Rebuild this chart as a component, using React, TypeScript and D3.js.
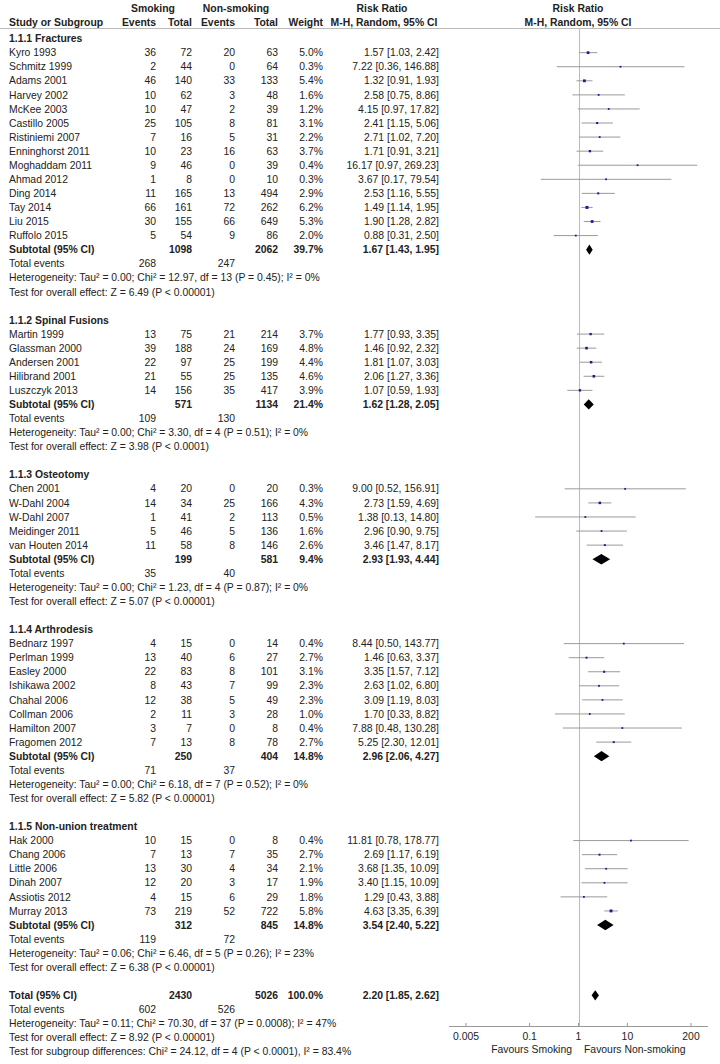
import { scaleLog } from 'd3';

// Subgroups
const groupTitles = [
  '1.1.1 Fractures',
  '1.1.2 Spinal Fusions',
  '1.1.3 Osteotomy',
  '1.1.4 Arthrodesis',
  '1.1.5 Non-union treatment',
];

// Studies (flat lists, studyGroup points into groupTitles)
const studyGroup = [
  0, 0, 0, 0, 0, 0, 0, 0, 0, 0, 0, 0, 0, 0,
  1, 1, 1, 1, 1,
  2, 2, 2, 2, 2,
  3, 3, 3, 3, 3, 3, 3, 3,
  4, 4, 4, 4, 4, 4,
];
const studyNames = [
  'Kyro 1993', 'Schmitz 1999', 'Adams 2001', 'Harvey 2002', 'McKee 2003', 'Castillo 2005',
  'Ristiniemi 2007', 'Enninghorst 2011', 'Moghaddam 2011', 'Ahmad 2012', 'Ding 2014',
  'Tay 2014', 'Liu 2015', 'Ruffolo 2015',
  'Martin 1999', 'Glassman 2000', 'Andersen 2001', 'Hilibrand 2001', 'Luszczyk 2013',
  'Chen 2001', 'W-Dahl 2004', 'W-Dahl 2007', 'Meidinger 2011', 'van Houten 2014',
  'Bednarz 1997', 'Perlman 1999', 'Easley 2000', 'Ishikawa 2002', 'Chahal 2006',
  'Collman 2006', 'Hamilton 2007', 'Fragomen 2012',
  'Hak 2000', 'Chang 2006', 'Little 2006', 'Dinah 2007', 'Assiotis 2012', 'Murray 2013',
];
const smokingEvents = [
  36, 2, 46, 10, 10, 25, 7, 10, 9, 1, 11, 66, 30, 5,
  13, 39, 22, 21, 14,
  4, 14, 1, 5, 11,
  4, 13, 22, 8, 12, 2, 3, 7,
  10, 7, 13, 12, 4, 73,
];
const smokingTotals = [
  72, 44, 140, 62, 47, 105, 16, 23, 46, 8, 165, 161, 155, 54,
  75, 188, 97, 55, 156,
  20, 34, 41, 46, 58,
  15, 40, 83, 43, 38, 11, 7, 13,
  15, 13, 30, 20, 15, 219,
];
const nonEvents = [
  20, 0, 33, 3, 2, 8, 5, 16, 0, 0, 13, 72, 66, 9,
  21, 24, 25, 25, 35,
  0, 25, 2, 5, 8,
  0, 6, 8, 7, 5, 3, 0, 8,
  0, 7, 4, 3, 6, 52,
];
const nonTotals = [
  63, 64, 133, 48, 39, 81, 31, 63, 39, 10, 494, 262, 649, 86,
  214, 169, 199, 135, 417,
  20, 166, 113, 136, 146,
  14, 27, 101, 99, 49, 28, 8, 78,
  8, 35, 34, 17, 29, 722,
];
const weights = [
  5.0, 0.3, 5.4, 1.6, 1.2, 3.1, 2.2, 3.7, 0.4, 0.3, 2.9, 6.2, 5.3, 2.0,
  3.7, 4.8, 4.4, 4.6, 3.9,
  0.3, 4.3, 0.5, 1.6, 2.6,
  0.4, 2.7, 3.1, 2.3, 2.3, 1.0, 0.4, 2.7,
  0.4, 2.7, 2.1, 1.9, 1.8, 5.8,
];
const riskRatios = [
  1.57, 7.22, 1.32, 2.58, 4.15, 2.41, 2.71, 1.71, 16.17, 3.67, 2.53, 1.49, 1.9, 0.88,
  1.77, 1.46, 1.81, 2.06, 1.07,
  9.0, 2.73, 1.38, 2.96, 3.46,
  8.44, 1.46, 3.35, 2.63, 3.09, 1.7, 7.88, 5.25,
  11.81, 2.69, 3.68, 3.4, 1.29, 4.63,
];
const ciLow = [
  1.03, 0.36, 0.91, 0.75, 0.97, 1.15, 1.02, 0.91, 0.97, 0.17, 1.16, 1.14, 1.28, 0.31,
  0.93, 0.92, 1.07, 1.27, 0.59,
  0.52, 1.59, 0.13, 0.9, 1.47,
  0.5, 0.63, 1.57, 1.02, 1.19, 0.33, 0.48, 2.3,
  0.78, 1.17, 1.35, 1.15, 0.43, 3.35,
];
const ciHigh = [
  2.42, 146.88, 1.93, 8.86, 17.82, 5.06, 7.2, 3.21, 269.23, 79.54, 5.55, 1.95, 2.82, 2.5,
  3.35, 2.32, 3.03, 3.36, 1.93,
  156.91, 4.69, 14.8, 9.75, 8.17,
  143.77, 3.37, 7.12, 6.8, 8.03, 8.82, 130.28, 12.01,
  178.77, 6.19, 10.09, 10.09, 3.88, 6.39,
];

// Subtotals per subgroup
const subSmokingTotal = [1098, 571, 199, 250, 312];
const subNonTotal = [2062, 1134, 581, 404, 845];
const subWeight = [39.7, 21.4, 9.4, 14.8, 14.8];
const subRR = [1.67, 1.62, 2.93, 2.96, 3.54];
const subLow = [1.43, 1.28, 1.93, 2.06, 2.4];
const subHigh = [1.95, 2.05, 4.44, 4.27, 5.22];
const subEventsSmoking = [268, 109, 35, 71, 119];
const subEventsNon = [247, 130, 40, 37, 72];
const subHeterogeneity = [
  'Heterogeneity: Tau² = 0.00; Chi² = 12.97, df = 13 (P = 0.45); I² = 0%',
  'Heterogeneity: Tau² = 0.00; Chi² = 3.30, df = 4 (P = 0.51); I² = 0%',
  'Heterogeneity: Tau² = 0.00; Chi² = 1.23, df = 4 (P = 0.87); I² = 0%',
  'Heterogeneity: Tau² = 0.00; Chi² = 6.18, df = 7 (P = 0.52); I² = 0%',
  'Heterogeneity: Tau² = 0.06; Chi² = 6.46, df = 5 (P = 0.26); I² = 23%',
];
const subEffect = [
  'Test for overall effect: Z = 6.49 (P < 0.00001)',
  'Test for overall effect: Z = 3.98 (P < 0.0001)',
  'Test for overall effect: Z = 5.07 (P < 0.00001)',
  'Test for overall effect: Z = 5.82 (P < 0.00001)',
  'Test for overall effect: Z = 6.38 (P < 0.00001)',
];

// Overall
const totalSmoking = 2430;
const totalNon = 5026;
const totalRR = 2.2;
const totalLow = 1.85;
const totalHigh = 2.62;
const totalEventsSmoking = 602;
const totalEventsNon = 526;
const totalNotes = [
  'Heterogeneity: Tau² = 0.11; Chi² = 70.30, df = 37 (P = 0.0008); I² = 47%',
  'Test for overall effect: Z = 8.92 (P < 0.00001)',
  'Test for subgroup differences: Chi² = 24.12, df = 4 (P < 0.0001), I² = 83.4%',
];

const axisTicks = [0.005, 0.1, 1, 10, 200];

const fmt2 = (v) => v.toFixed(2);
const ciText = (r, l, h) => `${fmt2(r)} [${fmt2(l)}, ${fmt2(h)}]`;

const W = 720;
const H = 1064;
const rowY0 = 38.6;
const rowStep = 14.07;
const col = { name: 9, ev1: 156, tot1: 192, ev2: 235, tot2: 278, weight: 323, rr: 439 };
const textColor = '#222';
const font = '"Liberation Sans", Arial, sans-serif';

const x = scaleLog().domain([0.005, 200]).range([466, 691]);

export default function App() {
  const rows = [];
  let r = 0;
  groupTitles.forEach((title, g) => {
    rows.push({ type: 'group', r: r++, title });
    studyNames.forEach((name, i) => {
      if (studyGroup[i] !== g) return;
      rows.push({ type: 'study', r: r++, i });
    });
    rows.push({ type: 'subtotal', r: r++, g });
    rows.push({ type: 'events', r: r++, a: subEventsSmoking[g], b: subEventsNon[g] });
    rows.push({ type: 'note', r: r++, text: subHeterogeneity[g] });
    rows.push({ type: 'note', r: r++, text: subEffect[g] });
    r++;
  });
  rows.push({ type: 'total', r: r++ });
  rows.push({ type: 'events', r: r++, a: totalEventsSmoking, b: totalEventsNon });
  totalNotes.forEach((t) => rows.push({ type: 'note', r: r++, text: t }));

  const yOf = (row) => rowY0 + row * rowStep;
  const axisY = 1026;

  const diamond = (cy, rr, lo, hi) =>
    `M${x(lo)},${cy} L${x(rr)},${cy - 5.2} L${x(hi)},${cy} L${x(rr)},${cy + 5.2} Z`;

  const numCells = (y, vals, bold) =>
    vals.map(([cx, v], k) =>
      v === null ? null : (
        <text key={k} x={cx} y={y} dy="0.35em" textAnchor="end" fontWeight={bold ? 'bold' : 'normal'}>
          {v}
        </text>
      )
    );

  return (
    <div style={{ position: 'absolute', left: 0, top: 0 }}>
      <svg width={W} height={H} style={{ display: 'block', background: '#fff' }}>
        <g fontFamily={font} fontSize={10.4} fill={textColor}>
          {/* headers */}
          <g fontWeight="bold">
            <text x={153} y={8} dy="0.35em" textAnchor="middle">Smoking</text>
            <text x={236} y={8} dy="0.35em" textAnchor="middle">Non-smoking</text>
            <text x={382} y={8} dy="0.35em" textAnchor="middle">Risk Ratio</text>
            <text x={578} y={8} dy="0.35em" textAnchor="middle">Risk Ratio</text>
            <text x={col.name} y={22} dy="0.35em">Study or Subgroup</text>
            <text x={col.ev1} y={22} dy="0.35em" textAnchor="end">Events</text>
            <text x={col.tot1} y={22} dy="0.35em" textAnchor="end">Total</text>
            <text x={col.ev2} y={22} dy="0.35em" textAnchor="end">Events</text>
            <text x={col.tot2} y={22} dy="0.35em" textAnchor="end">Total</text>
            <text x={col.weight} y={22} dy="0.35em" textAnchor="end">Weight</text>
            <text x={384} y={22} dy="0.35em" textAnchor="middle">M-H, Random, 95% CI</text>
            <text x={578} y={22} dy="0.35em" textAnchor="middle">M-H, Random, 95% CI</text>
          </g>
          <line x1={0} x2={W} y1={28.5} y2={28.5} stroke="#bbb" strokeWidth={1} />

          {/* null line */}
          <line x1={Math.round(x(1)) + 0.5} x2={Math.round(x(1)) + 0.5} y1={29} y2={axisY} stroke="#bbb" strokeWidth={1} />

          {rows.map((row, k) => {
            const y = yOf(row.r);
            if (row.type === 'group') {
              return (
                <text key={k} x={col.name} y={y} dy="0.35em" fontWeight="bold">{row.title}</text>
              );
            }
            if (row.type === 'study') {
              const i = row.i;
              const side = Math.max(1.8, 1.2 * Math.sqrt(weights[i]));
              const lo = Math.max(ciLow[i], 0.0035);
              const hi = Math.min(ciHigh[i], 280);
              return (
                <g key={k}>
                  <text x={col.name} y={y} dy="0.35em">{studyNames[i]}</text>
                  {numCells(y, [
                    [col.ev1, smokingEvents[i]],
                    [col.tot1, smokingTotals[i]],
                    [col.ev2, nonEvents[i]],
                    [col.tot2, nonTotals[i]],
                    [col.weight, `${weights[i].toFixed(1)}%`],
                    [col.rr, ciText(riskRatios[i], ciLow[i], ciHigh[i])],
                  ], false)}
                  <line x1={x(lo)} x2={x(hi)} y1={y} y2={y} stroke="#9a9a9a" strokeWidth={1} />
                  <rect x={x(riskRatios[i]) - side / 2} y={y - side / 2} width={side} height={side} fill="#1a1a9c" />
                </g>
              );
            }
            if (row.type === 'subtotal') {
              const g = row.g;
              return (
                <g key={k}>
                  <text x={col.name} y={y} dy="0.35em" fontWeight="bold">Subtotal (95% CI)</text>
                  {numCells(y, [
                    [col.tot1, subSmokingTotal[g]],
                    [col.tot2, subNonTotal[g]],
                    [col.weight, `${subWeight[g].toFixed(1)}%`],
                    [col.rr, ciText(subRR[g], subLow[g], subHigh[g])],
                  ], true)}
                  <path d={diamond(y, subRR[g], subLow[g], subHigh[g])} fill="#000" />
                </g>
              );
            }
            if (row.type === 'total') {
              return (
                <g key={k}>
                  <text x={col.name} y={y} dy="0.35em" fontWeight="bold">Total (95% CI)</text>
                  {numCells(y, [
                    [col.tot1, totalSmoking],
                    [col.tot2, totalNon],
                    [col.weight, '100.0%'],
                    [col.rr, ciText(totalRR, totalLow, totalHigh)],
                  ], true)}
                  <path d={diamond(y, totalRR, totalLow, totalHigh)} fill="#000" />
                </g>
              );
            }
            if (row.type === 'events') {
              return (
                <g key={k}>
                  <text x={col.name} y={y} dy="0.35em">Total events</text>
                  {numCells(y, [[col.ev1, row.a], [col.ev2, row.b]], false)}
                </g>
              );
            }
            return (
              <text key={k} x={col.name} y={y} dy="0.35em">{row.text}</text>
            );
          })}

          {/* axis */}
          <line x1={449} x2={708} y1={axisY + 0.5} y2={axisY + 0.5} stroke="#999" strokeWidth={1} />
          {axisTicks.map((t) => (
            <g key={t}>
              <line x1={x(t)} x2={x(t)} y1={axisY} y2={axisY - 3} stroke="#999" />
              <text x={x(t)} y={axisY + 10} dy="0.35em" textAnchor="middle">{t}</text>
            </g>
          ))}
          <text x={572} y={axisY + 23} dy="0.35em" textAnchor="end">Favours Smoking</text>
          <text x={584} y={axisY + 23} dy="0.35em">Favours Non-smoking</text>
        </g>
      </svg>
    </div>
  );
}
